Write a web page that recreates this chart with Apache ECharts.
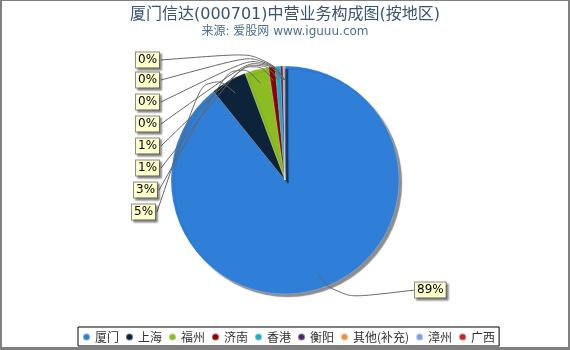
<!DOCTYPE html>
<html><head><meta charset="utf-8">
<script src="https://cdn.jsdelivr.net/npm/echarts@6/dist/echarts.min.js"></script>
<style>
html,body{margin:0;padding:0;background:#fff;}
#wrap{position:relative;width:570px;height:350px;}
#c{position:absolute;left:0;top:0;width:570px;height:350px;}
#frame{position:absolute;left:0;top:0;width:570px;height:350px;box-sizing:border-box;border-top:1px solid #808080;border-left:2px solid #808080;border-right:2px solid #808080;border-bottom:3px solid #808080;pointer-events:none;}
</style></head>
<body><div id="wrap"><div id="c"></div><div id="frame"></div></div>
<script>
var titleText = '厦门信达(000701)中营业务构成图(按地区)';
var subText = '来源: 爱股网 www.iguuu.com';
var categories = ['厦门','上海','福州','济南','香港','衡阳','其他(补充)','漳州','广西'];
var values = [89.2, 5.1, 3.4, 0.9, 0.75, 0.35, 0.15, 0.1, 0.05];
var colors = ['#2f7ed8','#0d233a','#8bbc21','#910000','#1aadce','#492970','#f28f43','#77a1e5','#c42525'];

var CX = 285, CY = 180, R = 114;
var FONT = 'DejaVu Sans, Noto Sans CJK SC, sans-serif';

var total = values.reduce(function(a,b){return a+b;}, 0);
var midAngles = [];
(function(){ var cum = 0; values.forEach(function(v){ midAngles.push((90 - 360*(cum + v/2)/total) * Math.PI/180); cum += v; }); })();

var chart = echarts.init(document.getElementById('c'), null, {renderer:'canvas'});
var data = categories.map(function(n, i){ return {name:n, value:values[i], itemStyle:{color:colors[i]}}; });
var dataOverlay = categories.map(function(n, i){ return {name:n, value:values[i]}; });

chart.setOption({
  animation:false,
  title:{
    text:titleText, subtext:subText, left:'center', top:2, itemGap:3,
    textStyle:{fontSize:16, fontWeight:'normal', color:'#3b5373', fontFamily:FONT},
    subtextStyle:{fontSize:12, color:'#4d6f96', fontFamily:FONT}
  },
  legend:{
    data:categories, left:78, top:327, orient:'horizontal',
    icon:'circle', itemWidth:7, itemHeight:7, itemGap:6,
    padding:[3,4,2,4], borderColor:'#000', borderWidth:1,
    textStyle:{fontSize:12, color:'#333', fontFamily:'Noto Sans CJK SC, DejaVu Sans, sans-serif', lineHeight:14}
  },
  series:[{
    type:'pie', center:[CX,CY], radius:R, startAngle:90, clockwise:true,
    data:data, z:2,
    itemStyle:{borderColor:'rgba(255,255,255,0.35)', borderWidth:0.5,
      shadowColor:'rgba(0,0,0,0.45)', shadowBlur:1, shadowOffsetX:3, shadowOffsetY:3},
    emphasis:{disabled:true},
    label:{show:false}, labelLine:{show:false}
  },{
    type:'pie', center:[CX,CY], radius:R, startAngle:90, clockwise:true,
    avoidLabelOverlap:false, silent:true, z:3,
    data:dataOverlay,
    itemStyle:{color:'rgba(0,0,0,0)', borderWidth:0},
    emphasis:{disabled:true},
    label:{
      show:true, position:'outside',
      formatter:function(p){ return Math.round(p.percent) + '%'; },
      fontSize:12, color:'#000', fontFamily:FONT,
      backgroundColor:'#ffffcc', borderColor:'#8c8c8c', borderWidth:1,
      padding:[2,2,1,2],
      shadowColor:'rgba(0,0,0,0.35)', shadowOffsetX:2, shadowOffsetY:2, shadowBlur:2
    },
    labelLine:{show:true, smooth:0.5, length:10, length2:10, lineStyle:{color:'#666', width:1}},
    labelLayout:function(p){
      var i = p.dataIndex;
      var a = midAngles[i];
      var sx = CX + Math.cos(a)*(R-14), sy = CY - Math.sin(a)*(R-14);
      var ox = CX + Math.cos(a)*(R+6), oy = CY - Math.sin(a)*(R+6);
      var w = p.labelRect.width;
      if (i === 0) {
        var lx = 415, ly = 290;
        return {x:lx, y:ly, align:'left', verticalAlign:'middle',
          labelLinePoints:[[sx,sy],[ox+12, oy+6],[lx,ly]]};
      }
      var yc = 212 - 22*(i-1);
      if (i === 8) yc = 60;
      var bx = 136;
      if (i === 1) bx = 132; else if (i === 2) bx = 134;
      var ex = bx + w;
      return {x:bx, y:yc, align:'left', verticalAlign:'middle',
        labelLinePoints:[[sx,sy],[ox-20, oy-8],[ex,yc]]};
    }
  }]
});
</script></body></html>
